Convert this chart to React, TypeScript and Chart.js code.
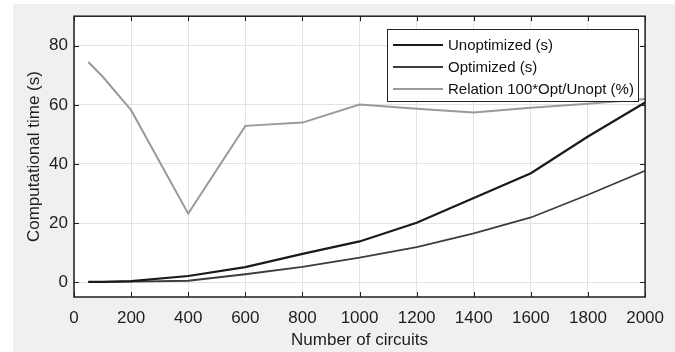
import React, { useEffect, useRef } from "react";
import { Chart, registerables } from "chart.js";

Chart.register(...registerables);

const circuits = [50, 100, 200, 400, 600, 800, 1000, 1200, 1400, 1600, 1800, 2000];
const unoptimized = [0.1, 0.15, 0.4, 2.1, 5.1, 9.6, 13.8, 20.1, 28.5, 36.9, 49.3, 60.8];
const optimized = [0.05, 0.1, 0.23, 0.5, 2.7, 5.2, 8.3, 11.9, 16.5, 21.9, 29.6, 37.7];
const relation = [74.5, 69.6, 58.2, 23.2, 52.9, 54.0, 60.1, 58.7, 57.4, 59.0, 60.4, 62.0];
const seriesLabels = ["Unoptimized (s)", "Optimized (s)", "Relation 100*Opt/Unopt (%)"];
const xTicks = [0, 200, 400, 600, 800, 1000, 1200, 1400, 1600, 1800, 2000];
const yTicks = [0, 20, 40, 60, 80];
const xTitle = "Number of circuits";
const yTitle = "Computational time (s)";

const FONT = "'Liberation Sans', Arial, Helvetica, sans-serif";
const AX = "#1e1e1e";

const bgPlugin = {
  id: "matlabBg",
  beforeDraw(chart: any) {
    const { ctx, width, height, chartArea: a } = chart;
    ctx.save();
    ctx.fillStyle = "#ffffff";
    ctx.fillRect(0, 0, width, height);
    ctx.fillStyle = "#f0f0f0";
    ctx.fillRect(13, 4, width - 13, height - 4);
    ctx.fillStyle = "#ffffff";
    ctx.fillRect(a.left, a.top, a.right - a.left, a.bottom - a.top);
    ctx.restore();
  },
  afterDraw(chart: any) {
    const { ctx, chartArea: a, scales } = chart;
    ctx.save();
    ctx.strokeStyle = AX;
    ctx.lineWidth = 1;
    const tl = 5;
    ctx.beginPath();
    for (const v of xTicks) {
      const px = Math.round(scales.x.getPixelForValue(v)) + 0.5;
      ctx.moveTo(px, a.bottom);
      ctx.lineTo(px, a.bottom - tl);
      ctx.moveTo(px, a.top);
      ctx.lineTo(px, a.top + tl);
    }
    for (const v of yTicks) {
      const py = Math.round(scales.y.getPixelForValue(v)) + 0.5;
      ctx.moveTo(a.left, py);
      ctx.lineTo(a.left + tl, py);
      ctx.moveTo(a.right, py);
      ctx.lineTo(a.right - tl, py);
    }
    ctx.stroke();
    ctx.lineWidth = 1.5;
    ctx.strokeRect(a.left, a.top, a.right - a.left, a.bottom - a.top);

    // legend
    const bx = 387, by = 29, bw = 251, bh = 72;
    ctx.fillStyle = "#ffffff";
    ctx.fillRect(bx, by, bw, bh);
    ctx.lineWidth = 1;
    ctx.strokeStyle = "#222222";
    ctx.strokeRect(bx + 0.5, by + 0.5, bw, bh);
    const rows = [45, 67, 89];
    chart.data.datasets.forEach((ds: any, i: number) => {
      const y = rows[i];
      ctx.strokeStyle = ds.borderColor;
      ctx.lineWidth = ds.borderWidth;
      ctx.beginPath();
      ctx.moveTo(393, y);
      ctx.lineTo(443, y);
      ctx.stroke();
      ctx.fillStyle = "#111111";
      ctx.font = `15px ${FONT}`;
      ctx.textBaseline = "middle";
      ctx.textAlign = "left";
      ctx.fillText(ds.label, 448, y + 1);
    });
    ctx.restore();
  },
};

export default function App() {
  const ref = useRef<HTMLCanvasElement | null>(null);
  useEffect(() => {
    document.body.style.margin = "0";
    const canvas = ref.current;
    if (!canvas) return;
    const mk = (vals: number[]) => circuits.map((x, i) => ({ x, y: vals[i] }));
    const chart = new Chart(canvas, {
      type: "line",
      data: {
        datasets: [
          { label: seriesLabels[0], data: mk(unoptimized), borderColor: "#1a1a1a", borderWidth: 2.2, pointRadius: 0, tension: 0, fill: false },
          { label: seriesLabels[1], data: mk(optimized), borderColor: "#3c3c3c", borderWidth: 1.8, pointRadius: 0, tension: 0, fill: false },
          { label: seriesLabels[2], data: mk(relation), borderColor: "#9a9a9a", borderWidth: 2, pointRadius: 0, tension: 0, fill: false },
        ],
      },
      options: {
        animation: false,
        responsive: false,
        layout: { padding: { top: 16, right: 23, left: 0, bottom: 0 } },
        plugins: { legend: { display: false }, tooltip: { enabled: false } },
        scales: {
          x: {
            type: "linear",
            min: 0,
            max: 2000,
            afterBuildTicks: (s: any) => { s.ticks = xTicks.map((v) => ({ value: v })); },
            afterFit: (s: any) => { s.height = 55; },
            grid: { color: "#e3e3e3", drawTicks: false },
            border: { display: false },
            ticks: { color: AX, font: { family: FONT, size: 17 }, padding: 11, maxRotation: 0, autoSkip: false, callback: (v: any) => String(v) },
            title: { display: true, text: xTitle, color: AX, font: { family: FONT, size: 17 }, padding: { top: 0, bottom: 1 } },
          },
          y: {
            type: "linear",
            min: -5,
            max: 90,
            afterBuildTicks: (s: any) => { s.ticks = yTicks.map((v) => ({ value: v })); },
            afterFit: (s: any) => { s.width = 74; },
            grid: { color: "#e3e3e3", drawTicks: false },
            border: { display: false },
            ticks: { color: AX, font: { family: FONT, size: 17 }, padding: 6, callback: (v: any) => String(v) },
            title: { display: true, text: yTitle, color: AX, font: { family: FONT, size: 17 }, padding: { top: 24, bottom: 0 } },
          },
        },
      },
      plugins: [bgPlugin],
    });
    return () => chart.destroy();
  }, []);
  return <canvas ref={ref} width={675} height={352} style={{ display: "block", width: 675, height: 352 }} />;
}
